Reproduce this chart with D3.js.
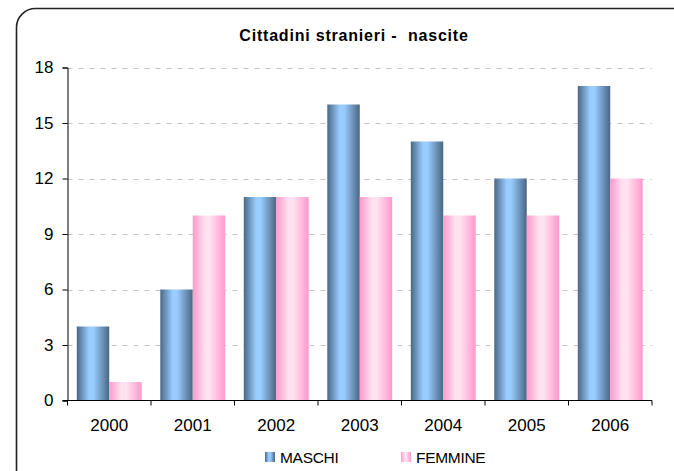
<!DOCTYPE html>
<html>
<head>
<meta charset="utf-8">
<script src="https://cdn.jsdelivr.net/npm/d3@7"></script>
<style>
  html, body { margin: 0; padding: 0; background: #fff; }
  svg { display: block; font-family: "Liberation Sans", Arial, sans-serif; }
</style>
</head>
<body>
<svg width="674" height="471"></svg>
<script>
// data
const years = ['2000', '2001', '2002', '2003', '2004', '2005', '2006']
const maschi = [4, 6, 11, 16, 14, 12, 17]
const femmine = [1, 10, 11, 11, 10, 10, 12]
const series = ['MASCHI', 'FEMMINE']
const yTicks = [0, 3, 6, 9, 12, 15, 18]

const svg = d3.select('svg')

// gradients for the cylinder-like bars
const defs = svg.append('defs')
function addGradient(id, edgeL, mid, edgeR) {
  const g = defs.append('linearGradient').attr('id', id)
    .attr('x1', '0%').attr('x2', '100%').attr('y1', '0%').attr('y2', '0%')
  g.append('stop').attr('offset', '0%').attr('stop-color', edgeL)
  g.append('stop').attr('offset', '38%').attr('stop-color', mid)
  g.append('stop').attr('offset', '52%').attr('stop-color', mid)
  g.append('stop').attr('offset', '100%').attr('stop-color', edgeR)
}
addGradient('gradM', '#4a6886', '#99ccff', '#4a6683')
addGradient('gradF', '#ff99cc', '#ffe2f0', '#ff99cc')
const fills = { MASCHI: 'url(#gradM)', FEMMINE: 'url(#gradF)' }

// outer frame, cut off on the right and bottom like the original
svg.append('rect')
  .attr('x', 16.5).attr('y', 8.5)
  .attr('width', 700).attr('height', 480)
  .attr('rx', 19).attr('ry', 19)
  .attr('fill', 'none')
  .attr('stroke', '#222')
  .attr('stroke-width', 1.6)

const margin = { left: 67.5, right: 652, top: 67.5, bottom: 400.5 }

const x = d3.scaleBand().domain(years).range([margin.left, margin.right])
const x1 = d3.scaleBand().domain(series).range([0, x.bandwidth()]).paddingOuter(0.286)
const y = d3.scaleLinear().domain([0, 18]).range([margin.bottom, margin.top])

// dashed grid
svg.append('g')
  .selectAll('line')
  .data(yTicks.filter(d => d > 0))
  .join('line')
  .attr('x1', margin.left).attr('x2', margin.right)
  .attr('y1', d => Math.round(y(d)) + 0.5).attr('y2', d => Math.round(y(d)) + 0.5)
  .attr('stroke', '#c4c4c4')
  .attr('stroke-dasharray', '5,6')

// bars
const rows = years.map((yr, i) => ({ year: yr, MASCHI: maschi[i], FEMMINE: femmine[i] }))
svg.append('g')
  .selectAll('g')
  .data(rows)
  .join('g')
  .attr('transform', d => `translate(${x(d.year)},0)`)
  .selectAll('rect')
  .data(d => series.map(s => ({ key: s, value: d[s] })))
  .join('rect')
  .attr('x', d => x1(d.key))
  .attr('width', x1.bandwidth())
  .attr('y', d => y(d.value))
  .attr('height', d => y(0) - y(d.value))
  .attr('fill', d => fills[d.key])

// axes
const yAxis = d3.axisLeft(y).tickValues(yTicks).tickSizeOuter(0).tickSize(5).tickPadding(9)
svg.append('g')
  .attr('transform', `translate(${margin.left},0)`)
  .call(yAxis)
  .call(g => g.selectAll('text').attr('font-size', 17).attr('fill', '#000')
    .attr('font-family', '"Liberation Sans", Arial, sans-serif'))
  .call(g => g.selectAll('line, path').attr('stroke', '#000'))

const xAxis = d3.axisBottom(x).tickSize(0).tickPadding(18)
const xg = svg.append('g')
  .attr('transform', `translate(0,${margin.bottom})`)
  .call(xAxis)
xg.select('.domain').remove()
xg.selectAll('text').attr('font-size', 17).attr('fill', '#000')
  .attr('font-family', '"Liberation Sans", Arial, sans-serif')
// baseline and boundary ticks
xg.append('line')
  .attr('x1', margin.left - 5).attr('x2', margin.right)
  .attr('stroke', '#000')
xg.selectAll('.bound')
  .data(years.map(d => x(d)).concat([margin.right]))
  .join('line')
  .attr('class', 'bound')
  .attr('x1', d => d).attr('x2', d => d)
  .attr('y1', 0).attr('y2', 5)
  .attr('stroke', '#000')

// title
svg.append('text')
  .attr('x', 354).attr('y', 41)
  .attr('text-anchor', 'middle')
  .attr('font-size', 16)
  .attr('font-weight', 'bold')
  .attr('letter-spacing', '0.8')
  .style('white-space', 'pre')
  .text('Cittadini stranieri -  nascite')

// legend
const legendPos = [265, 401]
const legend = svg.append('g')
  .selectAll('g')
  .data(series)
  .join('g')
  .attr('transform', (d, i) => `translate(${legendPos[i]},452)`)
legend.append('rect')
  .attr('width', 10).attr('height', 10)
  .attr('fill', d => fills[d])
legend.append('text')
  .attr('x', 15).attr('y', 10.5)
  .attr('font-size', 15.5)
  .attr('letter-spacing', '-0.3')
  .text(d => d)
</script>
</body>
</html>
